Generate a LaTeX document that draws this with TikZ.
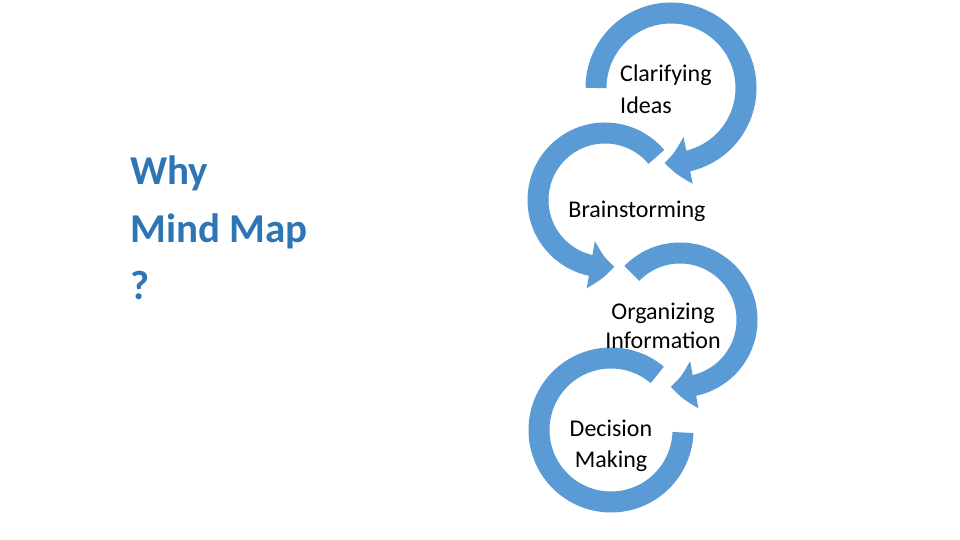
\documentclass[tikz,border=0pt]{standalone}
\usepackage{fontspec}
\setmainfont{Carlito}
\usetikzlibrary{arrows.meta,bending}
\definecolor{arrowblue}{HTML}{5B9BD5}
\definecolor{titleblue}{HTML}{2E75B6}
\begin{document}
\begin{tikzpicture}[x=1pt,y=1pt,
  band/.style={draw=arrowblue,line width=21pt},
  bandarrow/.style={band,-{Triangle[length=24pt,width=46pt,bend]}},
  lbl/.style={font=\fontsize{24}{30}\selectfont,text=black,inner sep=0pt,anchor=base}]
\useasboundingbox (0,0) rectangle (960,540);
\fill[white] (0,0) rectangle (960,540);
% arrow 1
\coordinate (c1) at (671,452);
\draw[bandarrow] (c1) ++(180:75) arc[start angle=180,end angle=-95,radius=75];
% arrow 2
\coordinate (c2) at (605,340);
\draw[bandarrow] (c2) ++(40:67) arc[start angle=40,end angle=278,radius=67];
% arrow 3
\coordinate (c3) at (680,220);
\draw[bandarrow] (c3) ++(136:67) arc[start angle=136,end angle=-98,radius=67];
% arrow 4
\coordinate (c4) at (611,110);
\draw[band] (c4) ++(50:72) arc[start angle=50,end angle=358,radius=72];
% labels
\node[lbl,anchor=base west] (t1a) at (620,458) {Clarifying};
\node[lbl,anchor=base west] (t1b) at (620,426) {Ideas};
\node[lbl] (t2) at (637,322) {Brainstorming};
\node[lbl] (t3a) at (663,220) {Organizing};
\node[lbl] (t3b) at (663,191) {Information};
\node[lbl] (t4a) at (611,103) {Decision};
\node[lbl] (t4b) at (611,72) {Making};
\begin{scope}[every node/.style={font=\bfseries\fontsize{41}{58}\selectfont,text=titleblue,anchor=base west,inner sep=0pt}]
\node (w1) at (130,355) {Why};
\node (w2) at (130,297) {Mind Map};
\node (w3) at (130,240) {?};
\end{scope}
\end{tikzpicture}
\end{document}
